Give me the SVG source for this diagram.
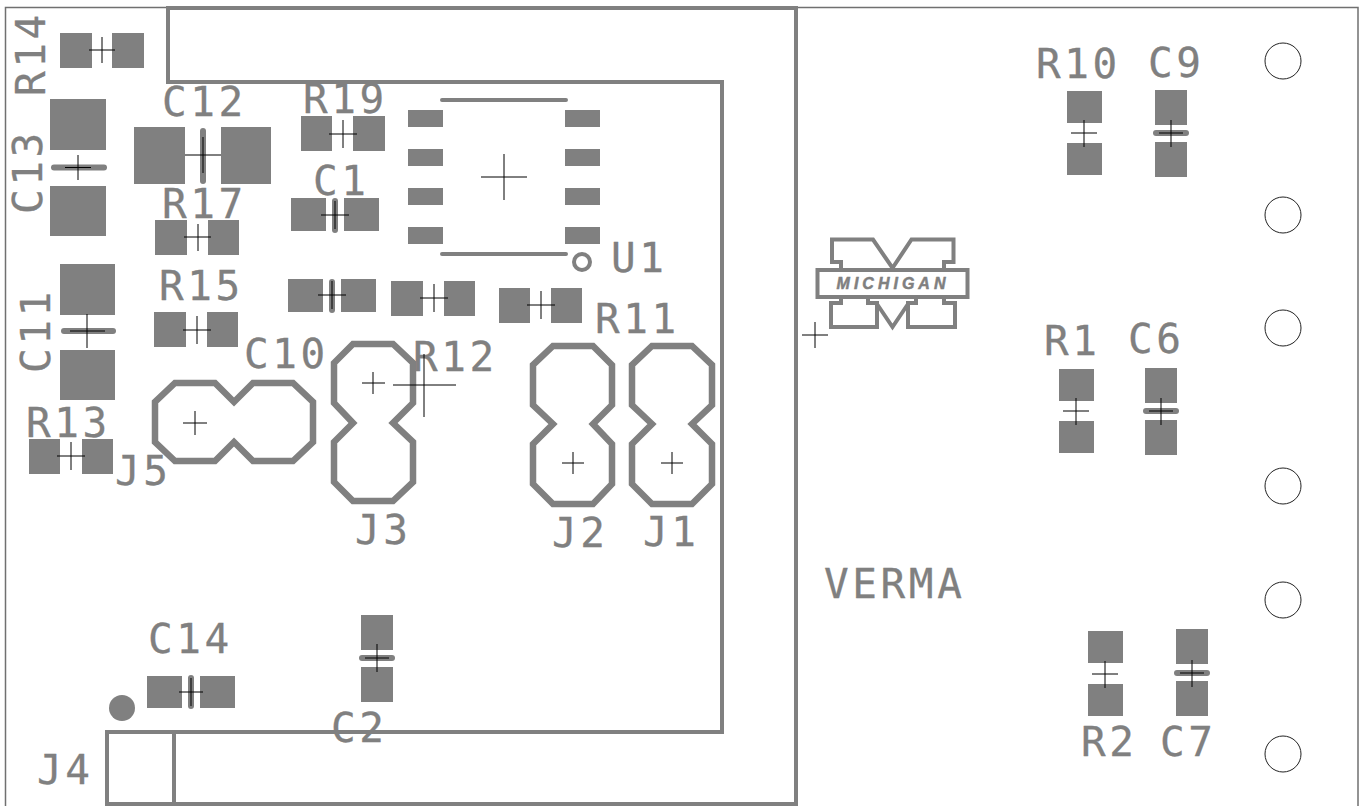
<svg xmlns="http://www.w3.org/2000/svg" width="1359" height="806" viewBox="0 0 1359 806">
<style>
.p{fill:#808080}
.b{fill:none;stroke:#808080;stroke-width:6;stroke-linecap:round}
.o{fill:none;stroke:#808080;stroke-width:6.500;stroke-linejoin:miter}
.e{fill:none;stroke:#808080;stroke-width:4}
.x{fill:none;stroke:#000;stroke-width:1}
.t{font-family:"DejaVu Sans Mono",monospace;font-size:41px;fill:#808080;stroke:#808080;stroke-width:.3px;letter-spacing:3.600px}
.h{fill:#fff;stroke:#222;stroke-width:1}
</style>
<rect width="1359" height="806" fill="#fff"/>
<g id="frame"><path d="M5.500 806V7.500H1358V806" fill="none" stroke="#707070" stroke-width="1.500"/></g>
<g id="board"><path class="e" d="M168 8H796V804H107V732H722V82H168Z"/><path class="e" d="M174 732V804"/></g>
<g id="R14"><rect class="p" x="60" y="33" width="32" height="35"/><rect class="p" x="112" y="33" width="32" height="35"/><path class="x" d="M89 50H115M102 37V63"/><text class="t" transform="translate(45 96) rotate(-90)">R14</text></g>
<g id="C13"><rect class="p" x="50" y="99" width="56" height="51"/><rect class="p" x="50" y="186" width="56" height="50"/><path class="b" d="M54 167.500H104"/><path class="x" d="M65 167.500H91M78 155V180"/><text class="t" transform="translate(42 214) rotate(-90)">C13</text></g>
<g id="C12"><rect class="p" x="134" y="127" width="51" height="57"/><rect class="p" x="221" y="127" width="50" height="57"/><path class="b" d="M203 131V181"/><path class="x" d="M185 155H221M203 137V173"/><text class="t" x="162" y="116">C12</text></g>
<g id="R19"><rect class="p" x="301" y="116" width="31" height="35"/><rect class="p" x="353" y="116" width="32" height="35"/><path class="x" d="M329 134H357M343 120V148"/><text class="t" x="303" y="113">R19</text></g>
<g id="C1"><rect class="p" x="291" y="198" width="35" height="33"/><rect class="p" x="344" y="198" width="35" height="33"/><path class="b" d="M335 201V230"/><path class="x" d="M321 215H349M335 201V229"/><text class="t" x="313" y="195">C1</text></g>
<g id="R17"><rect class="p" x="155" y="220" width="32" height="35"/><rect class="p" x="208" y="220" width="31" height="35"/><path class="x" d="M184 237H211M198 224V251"/><text class="t" x="162" y="218">R17</text></g>
<g id="C10"><rect class="p" x="288" y="279" width="35" height="33"/><rect class="p" x="341" y="279" width="35" height="33"/><path class="b" d="M332 282V310"/><path class="x" d="M318 295H346M332 281V309"/><text class="t" x="244" y="368">C10</text></g>
<g id="R12"><rect class="p" x="391" y="281" width="32" height="35"/><rect class="p" x="444" y="281" width="31" height="35"/><path class="x" d="M420 298H448M434 284V312"/><text class="t" x="413" y="371">R12</text></g>
<g id="R11"><rect class="p" x="499" y="288" width="31" height="35"/><rect class="p" x="551" y="288" width="31" height="35"/><path class="x" d="M527 305H555M541 291V319"/><text class="t" x="595" y="333">R11</text></g>
<g id="R15"><rect class="p" x="154" y="312" width="32" height="35"/><rect class="p" x="207" y="312" width="31" height="35"/><path class="x" d="M183 330H211M197 316V344"/><text class="t" x="159" y="300">R15</text></g>
<g id="C11"><rect class="p" x="60" y="264" width="55" height="51"/><rect class="p" x="60" y="350" width="55" height="50"/><path class="b" d="M64 331H113"/><path class="x" d="M70 331H105M87 314V348"/><text class="t" transform="translate(50 373) rotate(-90)">C11</text></g>
<g id="R13"><rect class="p" x="29" y="439" width="31" height="35"/><rect class="p" x="82" y="439" width="31" height="35"/><path class="x" d="M57 456H85M71 442V470"/><text class="t" x="26" y="437">R13</text></g>
<g id="C14"><rect class="p" x="147" y="676" width="35" height="32"/><rect class="p" x="200" y="676" width="35" height="32"/><path class="b" d="M191 678V706"/><path class="x" d="M179 692H203M191 678V706"/><text class="t" x="148" y="653">C14</text></g>
<g id="C2"><rect class="p" x="361" y="615" width="32" height="35"/><rect class="p" x="361" y="667" width="32" height="35"/><path class="b" d="M362 658H392"/><path class="x" d="M365 658H389M377 644V672"/><text class="t" x="331" y="742">C2</text></g>
<g id="U1"><rect class="p" x="408" y="110" width="35" height="17"/><rect class="p" x="408" y="149" width="35" height="17"/><rect class="p" x="408" y="188" width="35" height="17"/><rect class="p" x="408" y="227" width="35" height="17"/><rect class="p" x="565" y="110" width="35" height="17"/><rect class="p" x="565" y="149" width="35" height="17"/><rect class="p" x="565" y="188" width="35" height="17"/><rect class="p" x="565" y="227" width="35" height="17"/><path class="b" style="stroke-width:4" d="M442 100H566M442 254H566"/><circle cx="582" cy="262" r="8" class="e"/><path class="x" d="M481 177H527M504 154V200"/><text class="t" x="611" y="272">U1</text></g>
<g id="J5"><path class="o" d="M175 383H215L234 402L253 383H293L313 402V442L293 461H253L234 442L215 461H175L155 442V402Z"/><path class="x" d="M183 423H207M195 411V435"/><text class="t" x="115" y="485">J5</text></g>
<g id="J3"><path class="o" d="M353 344H393L413 363V403L393 423L413 442V482L393 501H353L334 482V442L353 423L334 403V363Z"/><path class="x" d="M362 383H385M373 372V394"/><text class="t" x="355" y="544">J3</text></g>
<g id="origin"><path class="x" d="M393 385H456M424 354V417"/></g>
<g id="J2"><path class="o" d="M553 346H593L612 365V405L593 424L612 444V484L593 504H553L533 484V444L553 424L533 405V365Z"/><path class="x" d="M562 463H584M573 452V474"/><text class="t" x="552" y="547">J2</text></g>
<g id="J1"><path class="o" d="M652 346H692L712 365V405L692 424L712 444V484L692 504H652L632 484V444L652 424L632 405V365Z"/><path class="x" d="M661 463H683M672 452V474"/><text class="t" x="643" y="546">J1</text></g>
<g id="J4"><circle class="p" cx="122" cy="708" r="13"/><text class="t" x="37" y="784">J4</text></g>
<g id="logo"><path d="M841 269V262H832V239.500H873L892.500 268L911.500 239.500H953.500V262H944V269M841 297V303H831V327H877V303H868V297M877 304L892.500 327L908 304M916 297V303H908V327H955V303H944V297" class="e"/><rect x="817.500" y="270" width="150" height="27" class="e"/><text x="893" y="289" text-anchor="middle" font-family="Liberation Sans,sans-serif" font-size="16" font-weight="700" font-style="italic" fill="#808080" stroke="#808080" stroke-width=".5" letter-spacing="4">MICHIGAN</text><path class="x" d="M802 335H828M815 322V348"/></g>
<g id="VERMA"><text class="t" x="824" y="598">VERMA</text></g>
<g id="R10"><rect class="p" x="1067" y="91" width="35" height="32"/><rect class="p" x="1067" y="143" width="35" height="32"/><path class="x" d="M1071 133H1097M1084 120V147"/><text class="t" x="1036" y="78">R10</text></g>
<g id="C9"><rect class="p" x="1155" y="90" width="32" height="35"/><rect class="p" x="1155" y="142" width="32" height="35"/><path class="b" d="M1156 133H1186"/><path class="x" d="M1159 133H1183M1171 120V147"/><text class="t" x="1148" y="77">C9</text></g>
<g id="R1"><rect class="p" x="1059" y="369" width="35" height="32"/><rect class="p" x="1059" y="421" width="35" height="32"/><path class="x" d="M1063 411H1089M1076 398V425"/><text class="t" x="1044" y="355">R1</text></g>
<g id="C6"><rect class="p" x="1145" y="368" width="32" height="35"/><rect class="p" x="1145" y="420" width="32" height="35"/><path class="b" d="M1146 411H1176"/><path class="x" d="M1149 411H1173M1161 398V425"/><text class="t" x="1128" y="353">C6</text></g>
<g id="R2"><rect class="p" x="1088" y="631" width="35" height="32"/><rect class="p" x="1088" y="684" width="35" height="32"/><path class="x" d="M1092 674H1118M1105 661V688"/><text class="t" x="1081" y="756">R2</text></g>
<g id="C7"><rect class="p" x="1176" y="629" width="32" height="35"/><rect class="p" x="1176" y="681" width="32" height="35"/><path class="b" d="M1177 673H1207"/><path class="x" d="M1180 673H1204M1192 660V687"/><text class="t" x="1160" y="756">C7</text></g>
<g id="holes"><circle class="h" cx="1283" cy="61" r="18"/><circle class="h" cx="1283" cy="215" r="18"/><circle class="h" cx="1283" cy="328" r="18"/><circle class="h" cx="1283" cy="486" r="18"/><circle class="h" cx="1283" cy="600" r="18"/><circle class="h" cx="1283" cy="754" r="18"/></g>
</svg>
